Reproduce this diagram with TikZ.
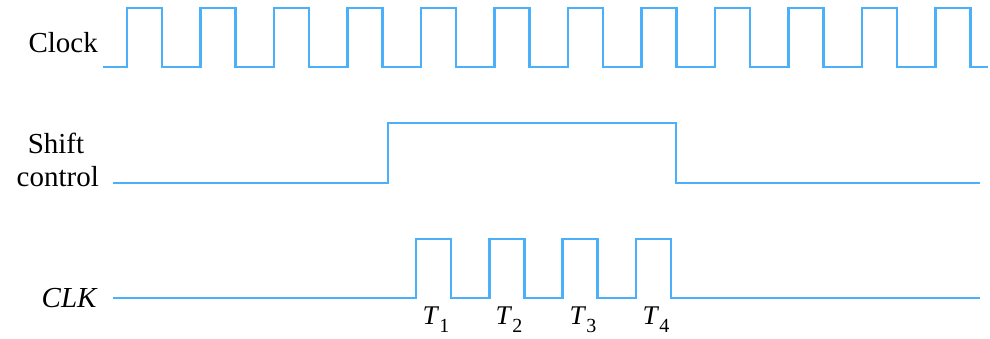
\documentclass[tikz,border=0pt]{standalone}
\usepackage{fontspec}
\setmainfont{Liberation Serif}
\definecolor{wavec}{RGB}{74,176,250}
\newcommand{\tlab}[1]{\textit{T}\raisebox{-8pt}{\fontsize{20}{20}\selectfont #1}}
\begin{document}
\begin{tikzpicture}[x=1pt,y=-1pt,
  wave/.style={draw=wavec, line width=2.8pt, line join=miter},
  lbl/.style={font=\fontsize{29}{34}\selectfont, inner sep=0pt},
  tl/.style={font=\fontsize{27}{30}\selectfont, inner sep=0pt, anchor=base}]
\useasboundingbox (0,0) rectangle (990,338);
% labels
\node[lbl, anchor=base east] (clock) at (98,52) {Clock};
\node[lbl, anchor=base] (shift) at (56,153) {Shift};
\node[lbl, anchor=base east] (control) at (99,186) {control};
\node[lbl, anchor=base east] (clk) at (98,307) {\textit{CLK}};
% clock waveform
\draw[wave] (103,67) \foreach \i in {0,...,11}{
  -- ({127+73.5*\i},67) -- ({127+73.5*\i},8) -- ({162+73.5*\i},8) -- ({162+73.5*\i},67)} -- (988,67);
% shift control
\draw[wave] (113,183) -- (388,183) -- (388,123) -- (676,123) -- (676,183) -- (980,183);
% CLK
\draw[wave] (113,298) \foreach \i in {0,...,3}{
  -- ({416+73.3*\i},298) -- ({416+73.3*\i},239) -- ({451+73.3*\i},239) -- ({451+73.3*\i},298)} -- (980,298);
% T labels
\node[tl] (t1) at (436,324) {\tlab{1}};
\node[tl] (t2) at (509,324) {\tlab{2}};
\node[tl] (t3) at (583,324) {\tlab{3}};
\node[tl] (t4) at (656,324) {\tlab{4}};
\end{tikzpicture}
\end{document}
